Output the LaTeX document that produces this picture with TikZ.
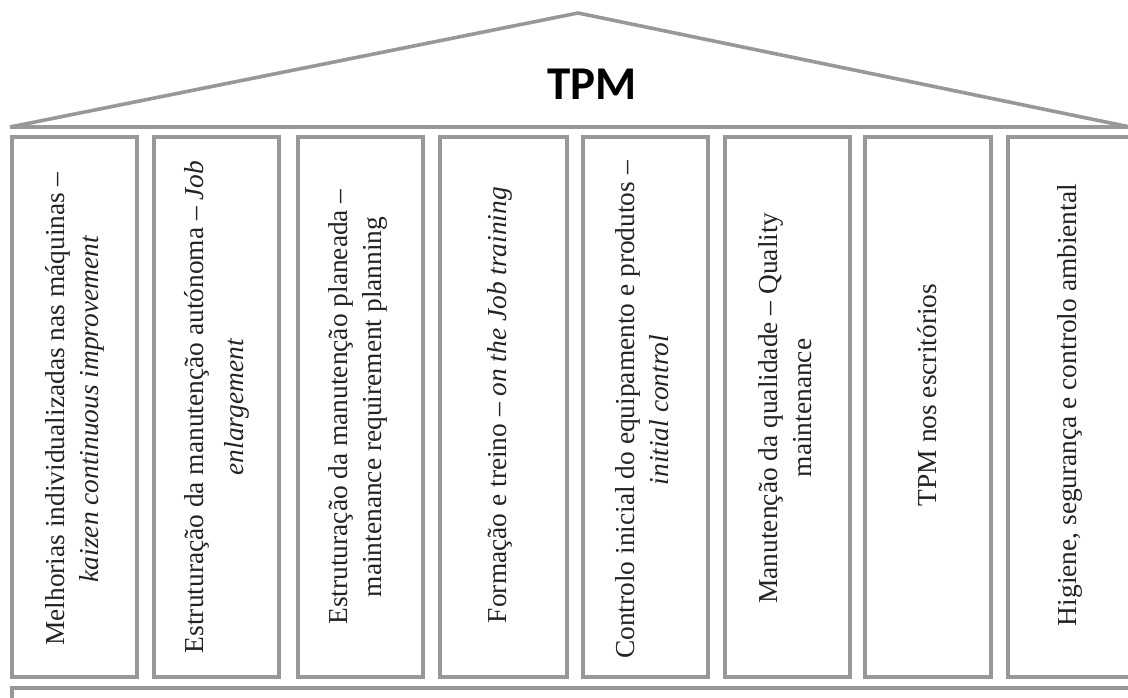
\documentclass[tikz,border=0pt]{standalone}
\usepackage{fontspec}
\setmainfont{Liberation Serif}
\newfontfamily\tpmfont{Carlito}
\definecolor{edge}{RGB}{152,152,152}
\definecolor{ink}{RGB}{35,35,35}
\begin{document}
\begin{tikzpicture}[x=0.5pt,y=-0.5pt,
  roofline/.style={draw=edge, line width=1.8pt, line join=miter},
  pillar/.style={draw=edge, line width=1.6pt},
  ptext/.style={rotate=90, align=center, text=ink, inner sep=0pt,
    font=\fontsize{13.7}{17}\selectfont},
  title/.style={font=\tpmfont\bfseries\fontsize{23.5}{24}\selectfont, text=black, inner sep=0pt}]
\useasboundingbox (0,0) rectangle (1128,697);
\clip (0,0) rectangle (1128,697);
\fill[white] (0,0) rectangle (1128,697);

% roof
\coordinate (rl) at (10,127);
\coordinate (ap) at (578,13);
\coordinate (rr) at (1130,127);
\coordinate (re) at (1140,127);
\draw[roofline] (rl) -- (ap) -- (rr);
\draw[roofline] (rl) -- (re);
\node[title] (tpm) at (592,84) {TPM};

% pillars
\draw[pillar] (12,137) rectangle (137,677);
\draw[pillar] (154,137) rectangle (279,677);
\draw[pillar] (298,137) rectangle (423,677);
\draw[pillar] (440,137) rectangle (567,677);
\draw[pillar] (583,137) rectangle (708,677);
\draw[pillar] (725,137) rectangle (850,677);
\draw[pillar] (865,137) rectangle (991,677);
\draw[pillar] (1008,137) rectangle (1140,677);

% pillar texts
\node[ptext] (t1) at (74.5,409) {Melhorias individualizadas nas máquinas –\\\textit{kaizen continuous improvement}};
\node[ptext] (t2) at (216.5,407) {Estruturação da manutenção autónoma – \textit{Job}\\[3pt]\textit{enlargement}};
\node[ptext] (t3) at (358,407) {Estruturação da manutenção planeada –\\maintenance requirement planning};
\node[ptext] (t4) at (500,405) {Formação e treino – \textit{on the Job training}};
\node[ptext] (t5) at (642,410) {Controlo inicial do equipamento e produtos –\\\textit{initial control}};
\node[ptext] (t6) at (785,408) {Manutenção da qualidade – Quality\\maintenance};
\node[ptext] (t7) at (927,395) {TPM nos escritórios};
\node[ptext] (t8) at (1070,405) {Higiene, segurança e controlo ambiental};

% base
\coordinate (bl) at (12,720);
\coordinate (bt) at (12,688);
\coordinate (br) at (1140,688);
\draw[roofline] (bl) -- (bt) -- (br);
\end{tikzpicture}
\end{document}
